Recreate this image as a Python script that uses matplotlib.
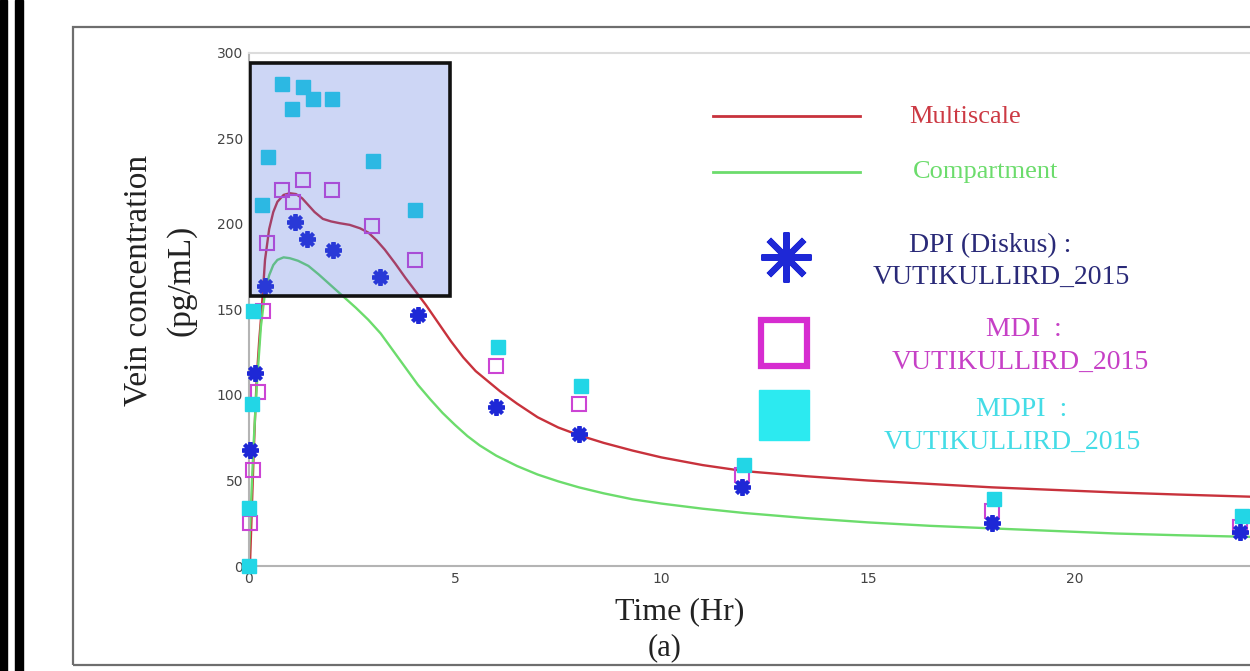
import matplotlib
matplotlib.use("Agg")
import matplotlib.pyplot as plt
from matplotlib.patches import Rectangle
from matplotlib.lines import Line2D

dpi_t = [0.04, 0.16, 0.40, 1.13, 1.41, 2.05, 3.18, 4.11, 6.0, 8.0, 11.95, 18.0, 24.0]
dpi_c = [68, 113, 164, 201, 191, 185, 169, 147, 93, 77, 46, 25, 20]

mdi_t = [0.04, 0.12, 0.23, 0.36, 0.44, 0.80, 1.08, 1.32, 2.01, 2.98, 4.03, 6.0, 8.0, 11.95, 18.0, 24.0]
mdi_c = [25, 56, 102, 149, 189, 220, 213, 226, 220, 199, 179, 117, 95, 53, 32, 23]

mdpi_t = [0.0, 0.0, 0.08, 0.12, 0.32, 0.47, 0.80, 1.05, 1.32, 1.56, 2.01, 3.02, 4.03, 6.05, 8.05, 12.0, 18.05, 24.05]
mdpi_c = [0, 34, 95, 149, 211, 239, 282, 267, 280, 273, 273, 237, 208, 128, 105, 59, 39, 29]

# ---- model curves ----
multi_t = [0, 0.04, 0.08, 0.12, 0.16, 0.2, 0.26, 0.32, 0.4, 0.5, 0.6, 0.7, 0.85, 1.0,
           1.15, 1.3, 1.45, 1.6, 1.8, 2.0, 2.2, 2.45, 2.7, 2.9, 3.1, 3.3, 3.55, 3.8,
           4.05, 4.3, 4.6, 4.9, 5.2, 5.5, 5.8, 6.1, 6.5, 7.0, 7.5, 8.0, 8.6, 9.3, 10,
           11, 12, 13.5, 15, 16.5, 18, 19.5, 21, 22.5, 24.3]
multi_c = [0, 4, 33, 62, 88, 110, 132, 150, 179, 197, 207, 213, 217, 218,
           217.5, 215, 211, 207, 203, 201.5, 200.5, 199.5, 197.5, 195, 190.5, 185, 177, 168.5,
           160.5, 152.5, 142, 131.5, 122, 114, 108, 102, 95, 87, 81, 76.5, 72, 67.5, 63.5,
           59, 55.5, 52.5, 50, 48, 46, 44.5, 43, 41.8, 40.5]

comp_t = [0, 0.05, 0.12, 0.2, 0.3, 0.4, 0.5, 0.6, 0.7, 0.85, 1.0, 1.2, 1.45, 1.7, 2.0,
          2.3, 2.6, 2.9, 3.2, 3.5, 3.8, 4.1, 4.4, 4.7, 5.0, 5.3, 5.6, 6.0, 6.5, 7.0, 7.5,
          8.0, 8.6, 9.3, 10, 11, 12, 13.5, 15, 16.5, 18, 19.5, 21, 22.5, 24.3]
comp_c = [0, 30, 70, 105, 140, 160, 170, 176, 179, 180.5, 180, 178.5, 175.5, 170.5, 164,
          157.5, 151, 144, 136, 126, 116, 106, 97.5, 89.5, 82.5, 76, 70.5, 64.5, 58.5, 53.5, 49.5,
          46, 42.5, 39, 36.5, 33.5, 31, 28, 25.5, 23.5, 22, 20.5, 19, 18, 17]

x_ticks = [0, 5, 10, 15, 20]
y_ticks = [0, 50, 100, 150, 200, 250, 300]

# highlighted early-phase window (t0, t1, c0, c1)
ZOOM_BOX = (0.03, 4.88, 158, 294)

W, H = 1250, 671


def fx(px):
    return px / W


def fy(py):
    return 1 - py / H


fig = plt.figure(figsize=(12.5, 6.71), dpi=100)
fig.patch.set_facecolor("white")

# page frame: double black bars at the left, thin grey panel border
fig.patches.append(Rectangle((0, 0), fx(7), 1, transform=fig.transFigure,
                             color="black", zorder=0))
fig.patches.append(Rectangle((fx(15), 0), fx(8), 1, transform=fig.transFigure,
                             color="black", zorder=0))
fig.patches.append(Rectangle((fx(73), fy(665)), fx(1200), fy(27) - fy(665),
                             transform=fig.transFigure, fill=False,
                             edgecolor="#6e6e6e", lw=1.6, zorder=0))

ax = fig.add_axes([fx(248.5), fy(566), 1 - fx(248.5), fy(53) - fy(566)])
ax.set_facecolor("none")
ax.set_xlim(0, 24.25)
ax.set_ylim(0, 300)

serif = "Liberation Serif"

ax.plot(multi_t, multi_c, color="#c8323c", lw=1.7, zorder=2)
ax.plot(comp_t, comp_c, color="#6cdc6c", lw=1.7, zorder=2)

ax.plot(mdi_t, mdi_c, ls="none", marker="s", ms=10, mfc="none", mec="#cc44d4",
        mew=1.5, clip_on=False, zorder=3)
ax.plot(mdpi_t, mdpi_c, ls="none", marker="s", ms=10, mfc="#22d6e6", mec="#22d6e6",
        clip_on=False, zorder=3)
ax.plot(dpi_t, dpi_c, ls="none", marker=(8, 2, 0), ms=12, mec="#1e28d6",
        mew=2.8, clip_on=False, zorder=4)

t0, t1, c0, c1 = ZOOM_BOX
ax.add_patch(Rectangle((t0, c0), t1 - t0, c1 - c0, facecolor="#4869dd",
                       alpha=0.27, edgecolor="none", zorder=5))
ax.add_patch(Rectangle((t0, c0), t1 - t0, c1 - c0, facecolor="none",
                       edgecolor="#111111", lw=2.6, zorder=6))

ax.spines["right"].set_visible(False)
ax.spines["left"].set_color("#b4b4b4")
ax.spines["bottom"].set_color("#b4b4b4")
ax.spines["top"].set_color("#dcdcdc")
for s in ["left", "bottom", "top"]:
    ax.spines[s].set_linewidth(1.5)

ax.set_xticks(x_ticks)
ax.set_yticks(y_ticks)
ax.tick_params(length=0, labelsize=10, labelcolor="#444444", pad=4)

# axis titles
fig.text(fx(160), fy(280), "Vein concentration\n(pg/mL)", rotation=90,
         ha="center", va="center", family=serif, fontsize=24, linespacing=1.5,
         color="#222222")
fig.text(fx(680), fy(612), "Time (Hr)", ha="center", va="center",
         family=serif, fontsize=23, color="#222222")
fig.text(fx(665), fy(648), "(a)", ha="center", va="center",
         family=serif, fontsize=22, color="#222222")

# hand-made legend
fig.lines.append(Line2D([fx(713), fx(860)], [fy(116), fy(116)],
                        transform=fig.transFigure, color="#c8323c", lw=2))
fig.lines.append(Line2D([fx(713), fx(860)], [fy(172), fy(172)],
                        transform=fig.transFigure, color="#6cdc6c", lw=2))
fig.text(fx(965), fy(117), "Multiscale", ha="center", va="center",
         family=serif, fontsize=19, color="#cc3a44")
fig.text(fx(986), fy(172), "Compartment", ha="center", va="center",
         family=serif, fontsize=19, color="#6cdc6c")

fig.lines.append(Line2D([fx(786)], [fy(257)], transform=fig.transFigure,
                        marker=(8, 2, 0), ms=36, mec="#1e28d6", mew=4.5))
fig.lines.append(Line2D([fx(784)], [fy(343)], transform=fig.transFigure,
                        marker="s", ms=33, mfc="none", mec="#d62cd0", mew=4.5))
fig.lines.append(Line2D([fx(784)], [fy(415)], transform=fig.transFigure,
                        marker="s", ms=36, mfc="#2ceaf0", mec="#2ceaf0"))

fs = 20
fig.text(fx(990), fy(246), "DPI (Diskus) :", ha="center", va="center",
         family=serif, fontsize=fs, color="#2a2a78")
fig.text(fx(1001), fy(277), "VUTIKULLIRD_2015", ha="center", va="center",
         family=serif, fontsize=fs, color="#2a2a78")
fig.text(fx(1024), fy(330), "MDI  :", ha="center", va="center",
         family=serif, fontsize=fs, color="#c640c6")
fig.text(fx(1020), fy(362), "VUTIKULLIRD_2015", ha="center", va="center",
         family=serif, fontsize=fs, color="#c640c6")
fig.text(fx(1022), fy(410), "MDPI  :", ha="center", va="center",
         family=serif, fontsize=fs, color="#44dce6")
fig.text(fx(1012), fy(442), "VUTIKULLIRD_2015", ha="center", va="center",
         family=serif, fontsize=fs, color="#44dce6")

fig.savefig("out.png", dpi=100)
